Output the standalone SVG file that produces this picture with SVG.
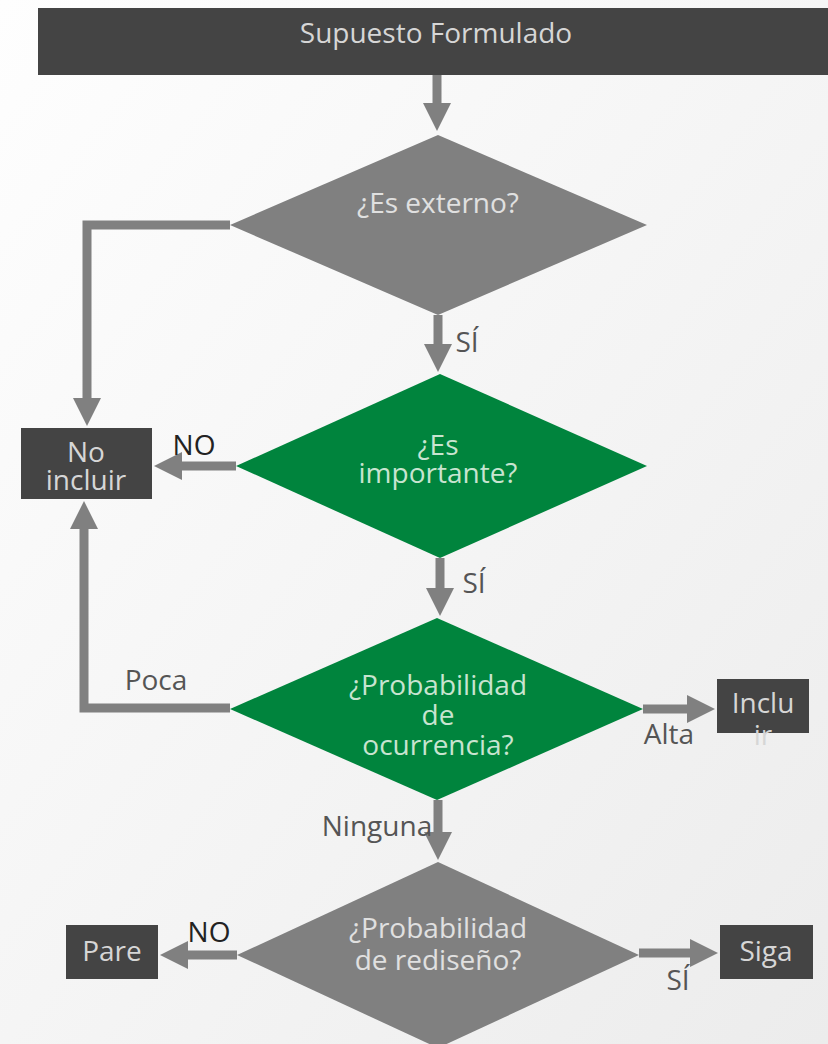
<svg xmlns="http://www.w3.org/2000/svg" width="828" height="1044" viewBox="0 0 828 1044">
<defs>
<linearGradient id="bg" x1="0" y1="0" x2="1" y2="1">
<stop offset="0" stop-color="#fefefe"/>
<stop offset="1" stop-color="#ececec"/>
</linearGradient>
<marker id="ah" markerUnits="userSpaceOnUse" markerWidth="30" markerHeight="30" refX="10" refY="14" orient="auto">
<path d="M0,0 L28,14 L0,28 Z" fill="#808080"/>
</marker>
<style>
text{font-family:"Open Sans","Liberation Sans",sans-serif;font-size:28px;text-anchor:middle}
.box{fill:#444444}
.gray{fill:#808080}
.green{fill:#00843d}
.tb{fill:#d6d6d6}
.tg{fill:#e0e0e0}
.tgr{fill:#c8e4d0}
.lbl{fill:#555555}
.lbk{fill:#222222}
.conn{fill:none;stroke:#808080;stroke-width:9;marker-end:url(#ah)}
</style>
</defs>
<rect width="828" height="1044" fill="url(#bg)"/>
<g id="connectors">
<path class="conn" d="M437,75 L437,113"/>
<path class="conn" d="M230,225 L87,225 L87,408"/>
<path class="conn" d="M438,315 L438,354"/>
<path class="conn" d="M236,466 L172,466"/>
<path class="conn" d="M440,558 L440,598"/>
<path class="conn" d="M230,708 L84,708 L84,519"/>
<path class="conn" d="M643,709 L697,709"/>
<path class="conn" d="M438,800 L438,842"/>
<path class="conn" d="M237,955 L178,955"/>
<path class="conn" d="M639,953 L700,953"/>
<text class="lbl" x="467" y="352">SÍ</text>
<text class="lbk" x="194" y="455">NO</text>
<text class="lbl" x="474" y="593">SÍ</text>
<text class="lbl" x="156" y="690">Poca</text>
<text class="lbl" x="669" y="744">Alta</text>
<text class="lbl" x="377" y="836">Ninguna</text>
<text class="lbk" x="209" y="942">NO</text>
<text class="lbl" x="678" y="990">SÍ</text>
</g>
<g id="n_supuesto">
<rect class="box" x="38" y="8" width="790" height="67"/>
<text class="tb" x="436" y="43">Supuesto Formulado</text>
</g>
<g id="n_externo">
<polygon class="gray" points="438,135 647,225 438,315 230,225"/>
<text class="tg" x="438" y="213">¿Es externo?</text>
</g>
<g id="n_noincluir">
<rect class="box" x="21" y="428" width="131" height="71"/>
<text class="tb" x="86" y="462">No</text>
<text class="tb" x="86" y="490">incluir</text>
</g>
<g id="n_importante">
<polygon class="green" points="440,374 647,466 440,558 236,466"/>
<text class="tgr" x="438" y="455">¿Es</text>
<text class="tgr" x="438" y="483">importante?</text>
</g>
<g id="n_ocurrencia">
<polygon class="green" points="437,618 643,709 437,800 230,709"/>
<text class="tgr" x="438" y="695">¿Probabilidad</text>
<text class="tgr" x="438" y="725">de</text>
<text class="tgr" x="438" y="755">ocurrencia?</text>
</g>
<g id="n_incluir">
<rect class="box" x="717" y="679" width="92" height="54"/>
<text class="tb" x="763" y="713">Inclu</text>
<text class="tb" x="763" y="745">ir</text>
</g>
<g id="n_rediseno">
<polygon class="gray" points="438,862 639,955 438,1048 237,955"/>
<text class="tg" x="438" y="938">¿Probabilidad</text>
<text class="tg" x="438" y="970">de rediseño?</text>
</g>
<g id="n_pare">
<rect class="box" x="66" y="925" width="92" height="54"/>
<text class="tb" x="112" y="961">Pare</text>
</g>
<g id="n_siga">
<rect class="box" x="720" y="925" width="93" height="54"/>
<text class="tb" x="766" y="961">Siga</text>
</g>
</svg>
